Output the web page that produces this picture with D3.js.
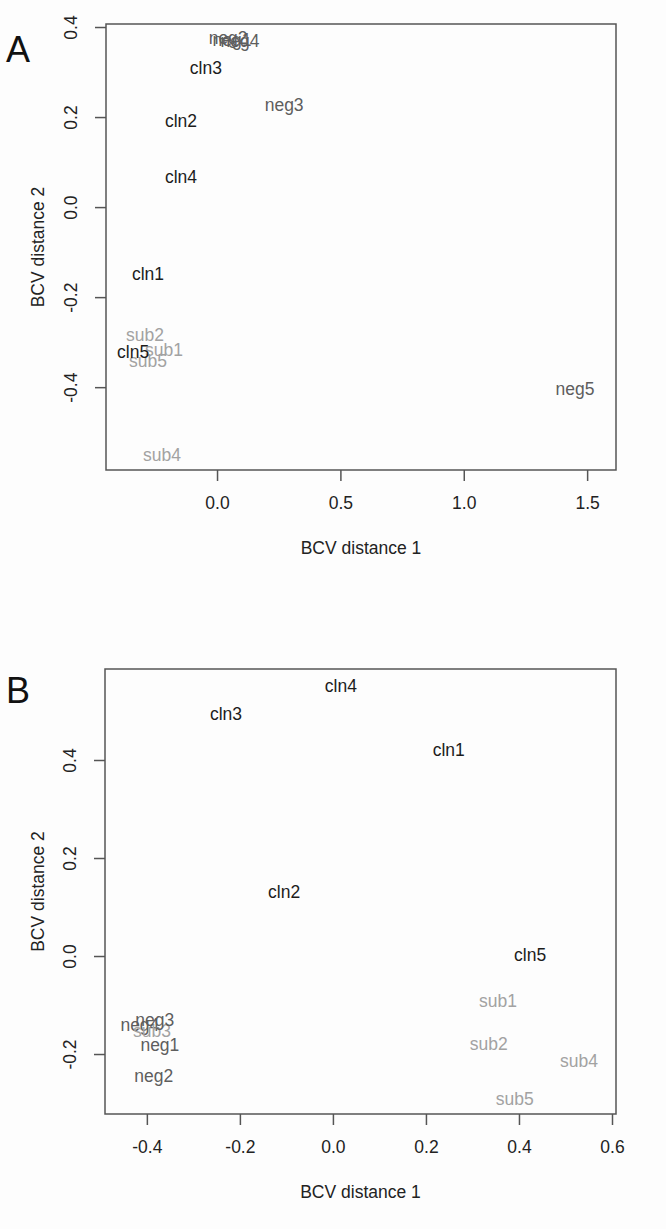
<!DOCTYPE html>
<html>
<head>
<meta charset="utf-8">
<script src="https://cdn.jsdelivr.net/npm/d3@7"></script>
<style>
  html, body { margin: 0; padding: 0; background: #fdfdfd; }
  svg { display: block; }
  text { font-family: "Liberation Sans", Arial, sans-serif; }
</style>
</head>
<body>
<svg id="chart" width="666" height="1229"></svg>
<script>
// ---- Panel A data ----
const labelsA = ["neg2", "neg1", "neg4", "cln3", "neg3", "cln2", "cln4", "cln1", "sub2", "sub1", "sub5", "cln5", "sub4", "neg5"];
const xA = [0.045, 0.061, 0.093, -0.045, 0.272, -0.146, -0.146, -0.28, -0.292, -0.215, -0.28, -0.34, -0.223, 1.451];
const yA = [0.376, 0.371, 0.369, 0.309, 0.227, 0.193, 0.067, -0.147, -0.284, -0.316, -0.342, -0.322, -0.551, -0.404];
const xTicksA = [0.0, 0.5, 1.0, 1.5];
const yTicksA = [-0.4, -0.2, 0.0, 0.2, 0.4];
const xDomainA = [-0.450, 1.617];
const yDomainA = [-0.584, 0.4067];

// ---- Panel B data ----
const labelsB = ["cln4", "cln3", "cln1", "cln2", "cln5", "sub1", "sub2", "sub4", "sub5", "neg4", "sub3", "neg3", "neg1", "neg2"];
const xB = [0.017, -0.23, 0.249, -0.105, 0.424, 0.355, 0.335, 0.529, 0.391, -0.415, -0.389, -0.383, -0.372, -0.385];
const yB = [0.551, 0.494, 0.420, 0.131, 0.002, -0.092, -0.178, -0.214, -0.292, -0.141, -0.153, -0.129, -0.180, -0.245];
const xTicksB = [-0.4, -0.2, 0.0, 0.2, 0.4, 0.6];
const yTicksB = [-0.2, 0.0, 0.2, 0.4];
const xDomainB = [-0.490, 0.6086];
const yDomainB = [-0.3224, 0.5857];

const groupColor = { cln: "#1c1c1c", neg: "#5e5e5e", sub: "#a2a2a2" };
const fmt = d => d3.format(".1f")(d).replace("\u2212", "-");

const svg = d3.select("#chart");

function panel(cfg) {
  const { left, right, top, bottom, letter, letterY, labels, xs, ys, xTicks, yTicks, xDomain, yDomain } = cfg;
  const x = d3.scaleLinear().domain(xDomain).range([left, right]);
  const y = d3.scaleLinear().domain(yDomain).range([bottom, top]);
  const g = svg.append("g");

  // Panel letter
  g.append("text").attr("x", 6).attr("y", letterY)
    .attr("font-family", "'Open Sans', sans-serif")
    .attr("font-size", 36).attr("fill", "#111").text(letter);

  // Points drawn as labels
  const idx = d3.range(labels.length);
  g.append("g").selectAll("text").data(idx).join("text")
    .attr("x", i => x(xs[i]))
    .attr("y", i => y(ys[i]))
    .attr("dy", "0.36em")
    .attr("text-anchor", "middle")
    .attr("font-size", 17.5)
    .attr("fill", i => groupColor[labels[i].slice(0, 3)])
    .text(i => labels[i]);

  // Bottom axis
  const ax = g.append("g").attr("transform", `translate(0,${bottom})`)
    .call(d3.axisBottom(x).tickValues(xTicks).tickFormat(fmt).tickSize(11).tickSizeOuter(0).tickPadding(16));
  ax.select(".domain").remove();
  ax.selectAll(".tick line").attr("stroke", "#555").attr("stroke-width", 1.5);
  ax.selectAll(".tick text").attr("font-size", 17.5).attr("fill", "#222")
    .attr("font-family", "'Liberation Sans', Arial, sans-serif");

  // Left axis
  const ay = g.append("g").attr("transform", `translate(${left},0)`)
    .call(d3.axisLeft(y).tickValues(yTicks).tickFormat(fmt).tickSize(11).tickSizeOuter(0));
  ay.select(".domain").remove();
  ay.selectAll(".tick line").attr("stroke", "#555").attr("stroke-width", 1.5);
  ay.selectAll(".tick text")
    .attr("transform", "rotate(-90)")
    .attr("x", 0).attr("y", -29).attr("dy", 0)
    .attr("text-anchor", "middle")
    .attr("font-size", 17.5).attr("fill", "#222")
    .attr("font-family", "'Liberation Sans', Arial, sans-serif");

  // Box
  g.append("rect").attr("x", left).attr("y", top)
    .attr("width", right - left).attr("height", bottom - top)
    .attr("fill", "none").attr("stroke", "#555").attr("stroke-width", 1.5);

  // Axis titles
  g.append("text").attr("x", (left + right) / 2).attr("y", bottom + 84)
    .attr("text-anchor", "middle").attr("font-size", 17.5).attr("fill", "#222")
    .text("BCV distance 1");
  g.append("text")
    .attr("transform", `translate(44,${(top + bottom) / 2}) rotate(-90)`)
    .attr("text-anchor", "middle").attr("font-size", 17.5).attr("fill", "#222")
    .text("BCV distance 2");
}

panel({ left: 106, right: 616, top: 24, bottom: 470, letter: "A", letterY: 62,
  labels: labelsA, xs: xA, ys: yA, xTicks: xTicksA, yTicks: yTicksA, xDomain: xDomainA, yDomain: yDomainA });
panel({ left: 105, right: 616, top: 669, bottom: 1114, letter: "B", letterY: 703,
  labels: labelsB, xs: xB, ys: yB, xTicks: xTicksB, yTicks: yTicksB, xDomain: xDomainB, yDomain: yDomainB });
</script>
</body>
</html>
